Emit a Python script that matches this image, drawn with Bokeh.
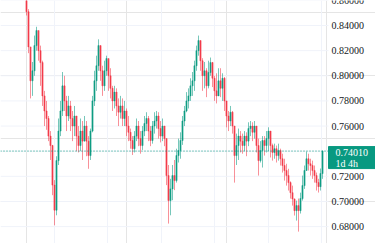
from bokeh.plotting import figure
from bokeh.models import Range1d, FixedTicker, Grid, ColumnDataSource
from bokeh.embed import file_html
from bokeh.resources import INLINE

first_open = 0.875
close = [0.851, 0.823, 0.796, 0.804, 0.824, 0.836, 0.820, 0.8105, 0.784, 0.772,
         0.766, 0.752, 0.7445, 0.713, 0.693, 0.7325, 0.756, 0.772, 0.792, 0.780,
         0.768, 0.776, 0.766, 0.760, 0.768, 0.752, 0.7445, 0.756, 0.748, 0.760,
         0.748, 0.7365, 0.756, 0.780, 0.796, 0.808, 0.824, 0.804, 0.792, 0.804,
         0.8137, 0.800, 0.790, 0.780, 0.787, 0.776, 0.771, 0.776, 0.766, 0.772,
         0.760, 0.755, 0.7485, 0.742, 0.752, 0.760, 0.750, 0.7445, 0.756, 0.762,
         0.766, 0.756, 0.7485, 0.760, 0.764, 0.768, 0.758, 0.752, 0.760, 0.750,
         0.7206, 0.7007, 0.710, 0.7206, 0.7166, 0.7365, 0.7405, 0.7485, 0.764, 0.772,
         0.780, 0.784, 0.792, 0.796, 0.808, 0.820, 0.828, 0.812, 0.800, 0.804,
         0.792, 0.8026, 0.8105, 0.798, 0.788, 0.784, 0.796, 0.790, 0.798, 0.780,
         0.768, 0.764, 0.771, 0.760, 0.7365, 0.7445, 0.752, 0.748, 0.7445, 0.752,
         0.748, 0.758, 0.760, 0.755, 0.760, 0.7445, 0.7325, 0.7405, 0.7485, 0.7445,
         0.750, 0.756, 0.7445, 0.739, 0.742, 0.7365, 0.7405, 0.734, 0.7286, 0.7246,
         0.7206, 0.715, 0.707, 0.702, 0.6927, 0.6967, 0.6927, 0.7023, 0.7126, 0.7246,
         0.734, 0.730, 0.7286, 0.7246, 0.7206, 0.715, 0.7118, 0.7222, 0.7401]
high = [0.878, 0.853, 0.811, 0.811, 0.832, 0.839, 0.832, 0.824, 0.812, 0.788,
        0.780, 0.768, 0.756, 0.745, 0.717, 0.736, 0.766, 0.780, 0.803, 0.800,
        0.784, 0.784, 0.780, 0.772, 0.776, 0.768, 0.760, 0.766, 0.764, 0.768,
        0.764, 0.752, 0.758, 0.784, 0.804, 0.816, 0.829, 0.824, 0.808, 0.812,
        0.816, 0.812, 0.806, 0.792, 0.792, 0.790, 0.782, 0.784, 0.782, 0.780,
        0.774, 0.768, 0.758, 0.752, 0.756, 0.766, 0.764, 0.756, 0.760, 0.768,
        0.771, 0.768, 0.760, 0.764, 0.771, 0.772, 0.771, 0.764, 0.766, 0.758,
        0.742, 0.729, 0.718, 0.729, 0.733, 0.742, 0.750, 0.755, 0.768, 0.776,
        0.787, 0.790, 0.798, 0.803, 0.812, 0.824, 0.832, 0.828, 0.814, 0.811,
        0.806, 0.812, 0.8145, 0.811, 0.800, 0.802, 0.806, 0.806, 0.802, 0.799,
        0.780, 0.772, 0.776, 0.772, 0.756, 0.754, 0.758, 0.756, 0.754, 0.756,
        0.755, 0.763, 0.764, 0.763, 0.764, 0.760, 0.750, 0.748, 0.752, 0.752,
        0.756, 0.759, 0.756, 0.746, 0.746, 0.7445, 0.746, 0.742, 0.738, 0.734,
        0.730, 0.726, 0.716, 0.7126, 0.7023, 0.7007, 0.7023, 0.707, 0.7206, 0.7286,
        0.7397, 0.738, 0.734, 0.7325, 0.7286, 0.723, 0.718, 0.7262, 0.7405]
low = [0.848, 0.818, 0.782, 0.784, 0.800, 0.820, 0.812, 0.792, 0.776, 0.760,
       0.757, 0.748, 0.733, 0.705, 0.681, 0.689, 0.729, 0.752, 0.768, 0.772,
       0.756, 0.764, 0.756, 0.748, 0.752, 0.740, 0.739, 0.740, 0.733, 0.748,
       0.736, 0.726, 0.733, 0.755, 0.776, 0.788, 0.804, 0.796, 0.784, 0.788,
       0.800, 0.788, 0.782, 0.772, 0.774, 0.768, 0.760, 0.766, 0.760, 0.760,
       0.752, 0.748, 0.742, 0.737, 0.739, 0.748, 0.744, 0.738, 0.741, 0.752,
       0.756, 0.748, 0.744, 0.746, 0.754, 0.758, 0.750, 0.747, 0.748, 0.744,
       0.713, 0.6824, 0.689, 0.701, 0.709, 0.715, 0.731, 0.734, 0.745, 0.760,
       0.771, 0.774, 0.780, 0.784, 0.788, 0.804, 0.816, 0.804, 0.788, 0.790,
       0.783, 0.790, 0.800, 0.791, 0.780, 0.778, 0.784, 0.783, 0.780, 0.772,
       0.759, 0.756, 0.760, 0.754, 0.715, 0.729, 0.733, 0.739, 0.738, 0.740,
       0.736, 0.744, 0.752, 0.748, 0.750, 0.739, 0.7206, 0.731, 0.727, 0.7365,
       0.739, 0.740, 0.735, 0.7325, 0.734, 0.731, 0.7325, 0.7286, 0.723, 0.7166,
       0.7126, 0.7087, 0.7023, 0.6967, 0.6888, 0.6848, 0.676, 0.6904, 0.7007, 0.710,
       0.7246, 0.7246, 0.7206, 0.718, 0.715, 0.7087, 0.7071, 0.7087, 0.718]
price_ticks = [0.68, 0.70, 0.72, 0.74, 0.76, 0.78, 0.80, 0.82, 0.84, 0.86]
period_marks = [13.75, 40.5, 67.25, 94.0, 120.75, 147.5]
last_price = 0.7401
last_price_text = "0.74010"
countdown_text = "1d 4h"

UP = "#089981"
DOWN = "#f23645"
FONT = "Roboto"

# layout: 375 px canvas, 2 px per candle slot, price scale occupies the right 47 px
X0, X1 = -13.0, 174.5
PANE_END = 151.0          # right edge of the candle pane (data units)
Y0, Y1 = 0.66655, 0.8599
H = 243
unit = (Y1 - Y0) / H       # price per screen pixel

idx = list(range(len(close)))
opens = [first_open] + close[:-1]
colors = [UP if c >= o else DOWN for o, c in zip(opens, close)]
src = ColumnDataSource(dict(
    x=idx, high=high, low=low,
    top=[max(o, c) for o, c in zip(opens, close)],
    bottom=[min(o, c) for o, c in zip(opens, close)],
    color=colors,
))

p = figure(width=375, height=H, output_backend="svg", toolbar_location=None,
           x_axis_location=None, y_axis_location=None,
           x_range=Range1d(X0, X1), y_range=Range1d(Y0, Y1),
           min_border=0)
p.outline_line_color = None
p.background_fill_color = "white"
p.border_fill_color = "white"

# grid
p.add_layout(Grid(dimension=0, ticker=FixedTicker(ticks=period_marks),
                  grid_line_color="#f0f3fa", grid_line_width=1))
p.segment(x0=[X0] * len(price_ticks), x1=[PANE_END] * len(price_ticks),
          y0=price_ticks, y1=price_ticks, line_color="#f0f3fa", line_width=1)

# candles
p.segment(x0="x", y0="high", x1="x", y1="low", source=src, line_color="color",
          line_alpha=0.55, line_width=1)
p.vbar(x="x", top="top", bottom="bottom", width=0.6, source=src, fill_color="color",
       line_color="color", line_width=0.5, fill_alpha=0.9, line_alpha=0.9)

# last price line
p.segment(x0=[X0], x1=[PANE_END], y0=[last_price], y1=[last_price],
          line_color=UP, line_dash="1 2", line_width=1)

# price scale labels
p.text(x=[PANE_END + 1.5] * len(price_ticks), y=price_ticks,
       text=["%.5f" % t for t in price_ticks],
       text_font=FONT, text_font_size="10px", text_color="#131722",
       text_align="left", text_baseline="middle")

# last price tag
p.quad(left=[PANE_END], right=[X1], top=[last_price + 4.5 * unit],
       bottom=[last_price - 17.5 * unit], fill_color=UP, line_color=UP)
p.text(x=[PANE_END + 3.5] * 2, y=[last_price, last_price],
       text=[last_price_text, countdown_text], y_offset=[1, 12],
       text_font=FONT, text_font_size="10px", text_color="white",
       text_align="left", text_baseline="middle")

open("out.html", "w").write(file_html(p, INLINE))
